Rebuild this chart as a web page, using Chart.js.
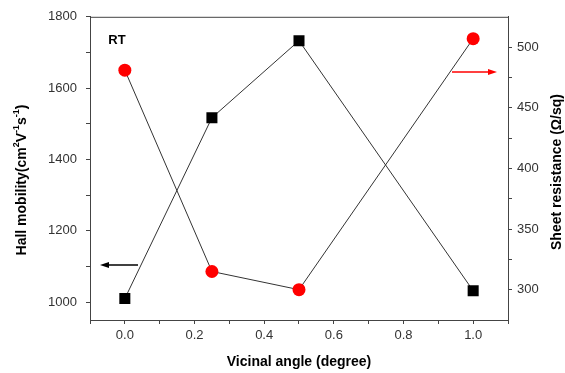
<!DOCTYPE html>
<html>
<head>
<meta charset="utf-8">
<script src="https://cdn.jsdelivr.net/npm/chart.js@4"></script>
<style>
    body { margin: 0; background: #fff; }
    #wrap { width: 565px; height: 373px; position: relative; }
</style>
</head>
<body>
<div id="wrap"><canvas id="chart"></canvas></div>
<script>
const angles = [0.0, 0.25, 0.5, 1.0];
const hallMobility = [1010, 1517, 1733, 1032];
const sheetResistance = [481, 315, 300, 507];

const xMajor = [0.0, 0.2, 0.4, 0.6, 0.8, 1.0];
const xMinor = [-0.1, 0.1, 0.3, 0.5, 0.7, 0.9, 1.1];
const leftMajor = [1000, 1200, 1400, 1600, 1800];
const leftMinor = [1100, 1300, 1500, 1700];
const rightMajor = [300, 350, 400, 450, 500];
const rightMinor = [325, 375, 425, 475];

const FONT = "'Liberation Sans', Arial, sans-serif";
const AXIS = "#444";

function setTicks(major, minor) {
    return scale => {
        scale.ticks = major.concat(minor).sort((a, b) => a - b).map(v => ({ value: v }));
    };
}

function label(major, digits) {
    return value => major.some(m => Math.abs(m - value) < 1e-9) ? value.toFixed(digits) : "";
}

const tickFont = { family: FONT, size: 13 };

// Titles, top border, arrows and the "RT" note
const extras = {
    id: "extras",
    afterDraw(chart) {
        const ctx = chart.ctx;
        const a = chart.chartArea;
        ctx.save();

        ctx.strokeStyle = AXIS;
        ctx.lineWidth = 1;
        ctx.beginPath();
        ctx.moveTo(a.left, a.top + 0.5);
        ctx.lineTo(a.right, a.top + 0.5);
        ctx.stroke();

        ctx.fillStyle = "#000";
        ctx.textAlign = "center";
        ctx.textBaseline = "middle";
        ctx.font = "bold 14px " + FONT;
        ctx.fillText("Vicinal angle (degree)", (a.left + a.right) / 2, 362);

        ctx.font = "bold 13px " + FONT;
        ctx.fillText("RT", 117, 40);

        // left title with superscripts
        const parts = [["Hall mobility(cm", 0], ["2", 1], ["V", 0], ["-1", 1], ["s", 0], ["-1", 1], [")", 0]];
        ctx.save();
        ctx.translate(22, 180);
        ctx.rotate(-Math.PI / 2);
        ctx.textAlign = "left";
        let total = 0;
        parts.forEach(p => {
            ctx.font = (p[1] ? "bold 9px " : "bold 14px ") + FONT;
            total += ctx.measureText(p[0]).width;
        });
        let x = -total / 2;
        parts.forEach(p => {
            ctx.font = (p[1] ? "bold 9px " : "bold 14px ") + FONT;
            ctx.fillText(p[0], x, p[1] ? -5 : 0);
            x += ctx.measureText(p[0]).width;
        });
        ctx.restore();

        ctx.save();
        ctx.translate(557, 172);
        ctx.rotate(-Math.PI / 2);
        ctx.font = "bold 14px " + FONT;
        ctx.fillText("Sheet resistance (\u03a9/sq)", 0, 0);
        ctx.restore();

        drawArrow(ctx, 138, 100, 265, "#000");
        drawArrow(ctx, 452, 497, 72, "#ff0000");
        ctx.restore();
    }
};

function drawArrow(ctx, x0, x1, y, color) {
    const dir = Math.sign(x1 - x0);
    ctx.strokeStyle = color;
    ctx.fillStyle = color;
    ctx.lineWidth = 1.5;
    ctx.beginPath();
    ctx.moveTo(x0, y);
    ctx.lineTo(x1 - dir * 6, y);
    ctx.stroke();
    ctx.beginPath();
    ctx.moveTo(x1, y);
    ctx.lineTo(x1 - dir * 9, y - 3);
    ctx.lineTo(x1 - dir * 9, y + 3);
    ctx.closePath();
    ctx.fill();
}

new Chart(document.getElementById("chart"), {
    type: "scatter",
    data: {
        datasets: [
            {
                label: "Hall mobility",
                data: angles.map((x, i) => ({ x, y: hallMobility[i] })),
                yAxisID: "y",
                showLine: true,
                borderColor: "#333",
                borderWidth: 1,
                pointStyle: "rect",
                pointRadius: 7.8,
                pointBackgroundColor: "#000",
                pointBorderWidth: 0
            },
            {
                label: "Sheet resistance",
                data: angles.map((x, i) => ({ x, y: sheetResistance[i] })),
                yAxisID: "y2",
                showLine: true,
                borderColor: "#333",
                borderWidth: 1,
                pointStyle: "circle",
                pointRadius: 6.5,
                pointBackgroundColor: "#ff0000",
                pointBorderWidth: 0
            }
        ]
    },
    options: {
        responsive: true,
        maintainAspectRatio: false,
        animation: false,
        layout: { padding: { top: 13, left: 0, right: 0, bottom: 0 } },
        plugins: { legend: { display: false }, tooltip: { enabled: false } },
        scales: {
            x: {
                type: "linear",
                min: -0.1,
                max: 1.1,
                afterBuildTicks: setTicks(xMajor, xMinor),
                afterFit: s => { s.height = 53; },
                grid: { drawOnChartArea: false, tickLength: 4, color: AXIS },
                border: { color: AXIS, width: 1 },
                ticks: { autoSkip: false, maxRotation: 0, padding: 4, color: "#333", font: tickFont, callback: label(xMajor, 1) }
            },
            y: {
                position: "left",
                min: 950,
                max: 1800,
                afterBuildTicks: setTicks(leftMajor, leftMinor),
                afterFit: s => { s.width = 90; },
                grid: { drawOnChartArea: false, tickLength: 4, color: AXIS },
                border: { color: AXIS, width: 1 },
                ticks: { autoSkip: false, padding: 9, color: "#333", font: tickFont, callback: label(leftMajor, 0) }
            },
            y2: {
                position: "right",
                min: 275,
                max: 525,
                afterBuildTicks: setTicks(rightMajor, rightMinor),
                afterFit: s => { s.width = 57; },
                grid: { drawOnChartArea: false, tickLength: 4, color: AXIS },
                border: { color: AXIS, width: 1 },
                ticks: { autoSkip: false, padding: 5, color: "#333", font: tickFont, callback: label(rightMajor, 0) }
            }
        }
    },
    plugins: [extras]
});
</script>
</body>
</html>
